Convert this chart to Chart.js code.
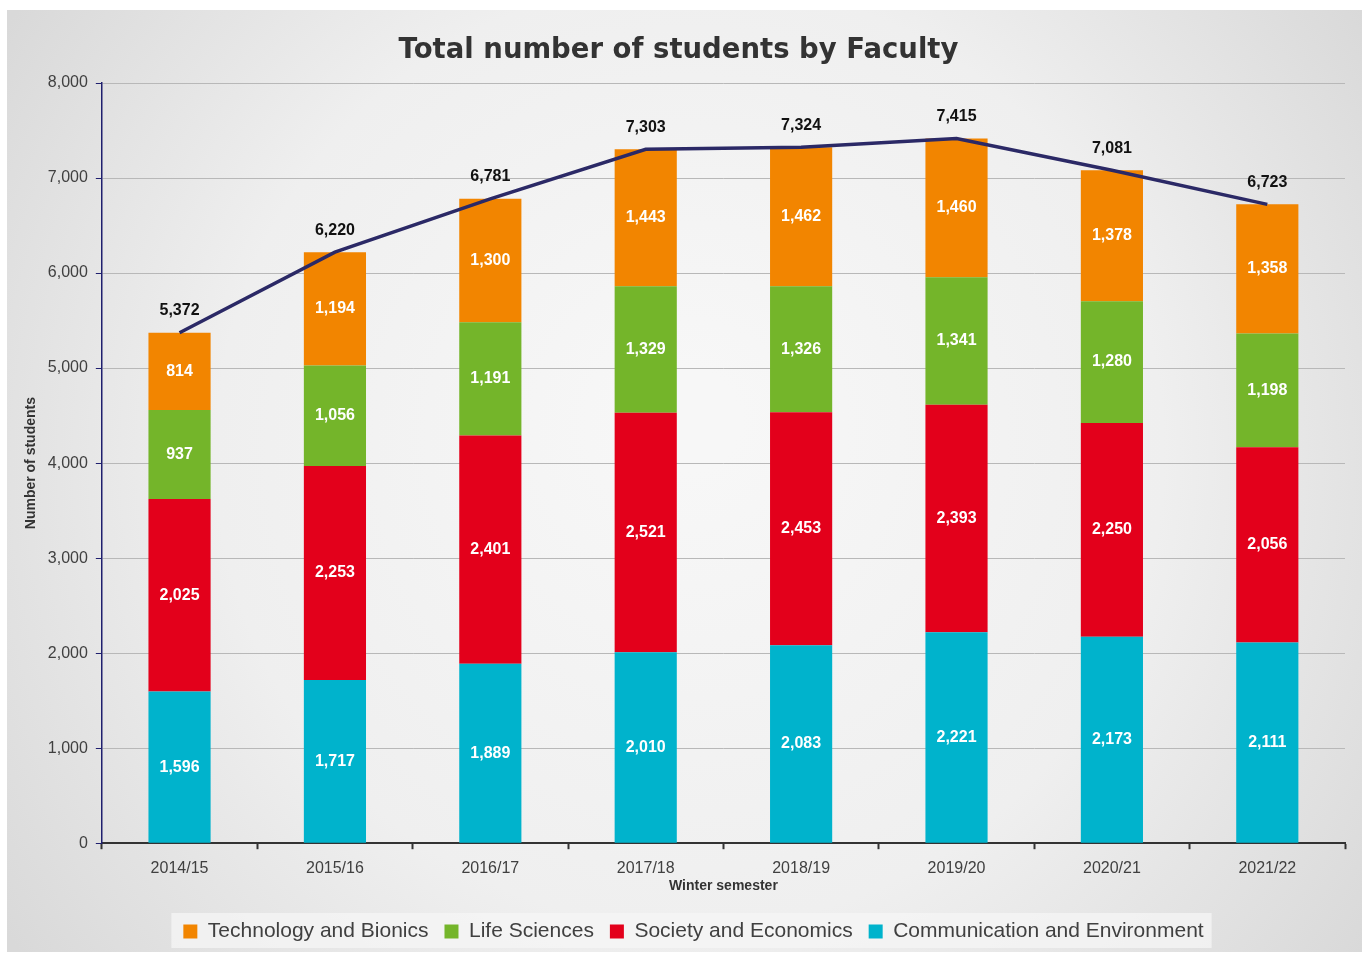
<!DOCTYPE html>
<html>
<head>
<meta charset="utf-8">
<script src="https://cdn.jsdelivr.net/npm/chart.js@4"></script>
<style>
html,body{margin:0;padding:0;background:#fff;}
canvas{display:block;}
</style>
</head>
<body>
<canvas id="c" width="1367" height="954"></canvas>
<script>
const categories = ["2014/15","2015/16","2016/17","2017/18","2018/19","2019/20","2020/21","2021/22"];
const communication = [1596,1717,1889,2010,2083,2221,2173,2111];
const society = [2025,2253,2401,2521,2453,2393,2250,2056];
const lifeSciences = [937,1056,1191,1329,1326,1341,1280,1198];
const technology = [814,1194,1300,1443,1462,1460,1378,1358];
const totals = [5372,6220,6781,7303,7324,7415,7081,6723];
const yTicks = [0,1000,2000,3000,4000,5000,6000,7000,8000];

const fmt = v => v.toLocaleString('en-US');

const LEGEND_SHIFT = 15;

const bgPlugin = {
  id: 'bg',
  afterLayout(chart) {
    const lg = chart.legend;
    if (lg) { lg.left += LEGEND_SHIFT; lg.right += LEGEND_SHIFT; }
  },
  beforeDraw(chart) {
    const ctx = chart.ctx;
    ctx.save();
    ctx.fillStyle = '#ffffff';
    ctx.fillRect(0, 0, chart.width, chart.height);
    const g = ctx.createRadialGradient(690, 420, 50, 690, 480, 820);
    g.addColorStop(0, '#f7f7f7');
    g.addColorStop(0.55, '#efefef');
    g.addColorStop(1, '#d9d9d9');
    ctx.fillStyle = g;
    ctx.fillRect(7, 10, 1355, 942);
    const lg = chart.legend;
    if (lg && lg.legendHitBoxes && lg.legendHitBoxes.length) {
      const hb = lg.legendHitBoxes;
      let l = Infinity, r = -Infinity, t = Infinity, b = -Infinity;
      hb.forEach(h => { l = Math.min(l, h.left); r = Math.max(r, h.left + h.width); t = Math.min(t, h.top); b = Math.max(b, h.top + h.height); });
      ctx.fillStyle = 'rgba(245,245,245,0.75)';
      ctx.fillRect(l - 12, t - 8, (r - l) + 20, (b - t) + 14);
    }
    ctx.restore();
  }
};

const labelPlugin = {
  id: 'vals',
  afterDatasetsDraw(chart) {
    const ctx = chart.ctx;
    ctx.save();
    ctx.textAlign = 'center';
    ctx.textBaseline = 'middle';
    chart.data.datasets.forEach((ds, di) => {
      const meta = chart.getDatasetMeta(di);
      if (meta.hidden) return;
      meta.data.forEach((el, i) => {
        const v = ds.data[i];
        ctx.font = 'bold 16px "Liberation Sans", Arial, sans-serif';
        if (ds.type === 'line') {
          ctx.fillStyle = '#111111';
          ctx.fillText(fmt(v), el.x, el.y - 22);
        } else {
          ctx.fillStyle = '#ffffff';
          ctx.fillText(fmt(v), el.x, (el.y + el.base) / 2);
        }
      });
    });
    ctx.restore();
  }
};

const barCommon = { type: 'bar', stack: 'faculty', order: 1, barPercentage: 0.4, categoryPercentage: 1.0, borderWidth: 0 };

new Chart(document.getElementById('c'), {
  data: {
    labels: categories,
    datasets: [
      Object.assign({ label: 'Communication and Environment', data: communication, backgroundColor: '#00b3cc' }, barCommon),
      Object.assign({ label: 'Society and Economics', data: society, backgroundColor: '#e3001b' }, barCommon),
      Object.assign({ label: 'Life Sciences', data: lifeSciences, backgroundColor: '#74b52a' }, barCommon),
      Object.assign({ label: 'Technology and Bionics', data: technology, backgroundColor: '#f28500' }, barCommon),
      { type: 'line', label: 'Total', data: totals, stack: 'total', order: 0, borderColor: '#2b2966', borderWidth: 3.5, pointRadius: 0, tension: 0, fill: false }
    ]
  },
  options: {
    responsive: false,
    animation: false,
    locale: 'en-US',
    devicePixelRatio: 1,
    layout: { padding: { left: 12, right: 22, top: 0, bottom: 2 } },
    plugins: {
      title: {
        display: true,
        text: 'Total number of students by Faculty',
        color: '#333333',
        font: { family: '"DejaVu Sans", Verdana, sans-serif', size: 27.5, weight: 'bold' },
        padding: { top: 34, bottom: 16 }
      },
      legend: {
        display: true,
        position: 'bottom',
        reverse: true,
        labels: {
          filter: item => item.text !== 'Total',
          color: '#404040',
          font: { family: '"Liberation Sans", Arial, sans-serif', size: 21 },
          boxWidth: 14,
          boxHeight: 14,
          padding: 16
        }
      },
      tooltip: { enabled: false }
    },
    scales: {
      x: {
        stacked: true,
        offset: true,
        grid: { display: true, drawOnChartArea: false, drawTicks: true, tickLength: 6, tickColor: '#333333', tickWidth: 2, offset: true },
        border: { display: true, color: '#333333', width: 2 },
        ticks: { color: '#404040', font: { family: '"Liberation Sans", Arial, sans-serif', size: 16, lineHeight: 1.0 }, padding: 11, maxRotation: 0 },
        title: { display: true, text: 'Winter semester', color: '#333333', font: { family: '"Liberation Sans", Arial, sans-serif', size: 14, weight: 'bold' }, padding: { top: -9, bottom: 10 } }
      },
      y: {
        stacked: true,
        min: 0,
        max: 8000,
        afterBuildTicks: scale => { scale.ticks = yTicks.map(v => ({ value: v })); },
        grid: { color: '#b8b8b8', lineWidth: 1, drawTicks: true, tickLength: 6, tickColor: '#1f1f6e' },
        border: { display: true, color: '#1f1f6e', width: 1.5 },
        ticks: { color: '#404040', font: { family: '"Liberation Sans", Arial, sans-serif', size: 16 }, padding: 8, callback: v => fmt(v) },
        title: { display: true, text: 'Number of students', color: '#333333', font: { family: '"Liberation Sans", Arial, sans-serif', size: 14, weight: 'bold' }, padding: { top: 11, bottom: 0 } }
      }
    }
  },
  plugins: [bgPlugin, labelPlugin]
});
</script>
</body>
</html>
